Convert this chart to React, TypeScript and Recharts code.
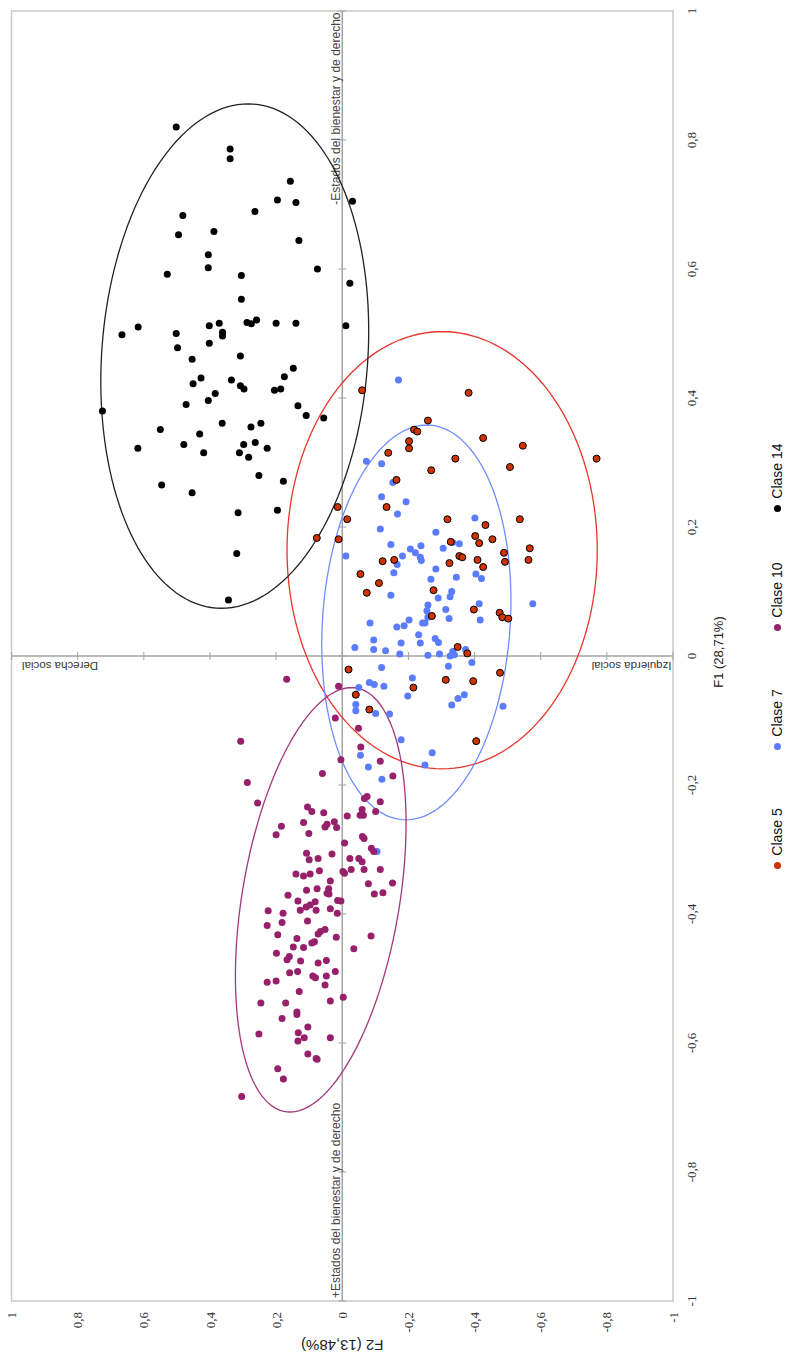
import React from 'react';
import {
  ScatterChart, Scatter, XAxis, YAxis, ReferenceLine, ReferenceArea, ReferenceDot,
} from 'recharts';

const SANS = "'Liberation Sans', Arial, Helvetica, sans-serif";
const SERIF = "'Liberation Serif', 'Times New Roman', serif";

// Axis ticks
const F1_TICKS = [-1, -0.8, -0.6, -0.4, -0.2, 0, 0.2, 0.4, 0.6, 0.8, 1];
const F2_TICKS = [-1, -0.8, -0.6, -0.4, -0.2, 0, 0.2, 0.4, 0.6, 0.8, 1];

// Series names and colours
const CLASS_NAMES = ['Clase 5', 'Clase 7', 'Clase 10', 'Clase 14'];
const CLASS_COLORS = ['#d03200', '#5b7cff', '#96206a', '#000000'];
const ELLIPSE_COLORS = ['#e8352c', '#6f8fff', '#a3387a', '#222222'];

// Points: [F1, F2]
const clase5: number[][] = [
  [0.412, -0.060], [0.408, -0.382], [0.365, -0.259], [0.351, -0.217], [0.348, -0.227],
  [0.338, -0.426], [0.326, -0.546], [0.333, -0.202], [0.322, -0.202], [0.315, -0.139],
  [0.306, -0.342], [0.293, -0.507], [0.306, -0.769], [0.288, -0.269], [0.273, -0.164],
  [0.231, -0.134], [0.231, 0.014], [0.212, -0.015], [0.212, -0.318], [0.212, -0.537],
  [0.203, -0.433], [0.183, 0.077], [0.181, 0.011], [0.186, -0.402], [0.175, -0.414],
  [0.181, -0.454], [0.177, -0.328], [0.167, -0.567], [0.160, -0.489], [0.146, -0.492],
  [0.155, -0.354], [0.153, -0.363], [0.149, -0.409], [0.147, -0.122], [0.149, -0.157],
  [0.149, -0.563], [0.144, -0.324], [0.138, -0.426], [0.127, -0.055], [0.113, -0.111],
  [0.098, -0.074], [0.102, -0.276], [0.072, -0.398], [0.067, -0.476], [0.060, -0.484],
  [0.058, -0.502], [0.062, -0.271], [0.014, -0.349], [0.004, -0.378], [-0.021, -0.019],
  [-0.037, -0.313], [-0.039, -0.396], [-0.026, -0.477], [-0.049, -0.215], [-0.060, -0.041],
  [-0.083, -0.082], [-0.132, -0.405],
];

const clase7: number[][] = [
  [0.428, -0.170], [0.302, -0.073], [0.298, -0.119], [0.269, -0.153], [0.247, -0.119],
  [0.239, -0.193], [0.220, -0.167], [0.197, -0.115], [0.192, -0.283], [0.214, -0.401],
  [0.173, -0.147], [0.171, -0.238], [0.167, -0.305], [0.176, -0.334], [0.174, -0.354],
  [0.155, -0.011], [0.166, -0.206], [0.160, -0.221], [0.153, -0.236], [0.148, -0.239],
  [0.155, -0.182], [0.142, -0.166], [0.135, -0.283], [0.129, -0.156], [0.119, -0.268],
  [0.122, -0.345], [0.127, -0.404], [0.120, -0.421], [0.094, -0.147], [0.100, -0.331],
  [0.092, -0.326], [0.090, -0.290], [0.081, -0.576], [0.081, -0.414], [0.079, -0.259],
  [0.070, -0.256], [0.060, -0.259], [0.072, -0.313], [0.058, -0.323], [0.056, -0.417],
  [0.056, -0.202], [0.051, -0.084], [0.045, -0.165], [0.047, -0.187], [0.051, -0.243],
  [0.051, -0.250], [0.033, -0.231], [0.025, -0.095], [0.013, -0.038], [0.010, -0.095],
  [0.008, -0.131], [0.020, -0.178], [0.020, -0.236], [0.027, -0.281], [0.021, -0.291],
  [0.003, -0.174], [0.001, -0.259], [0.003, -0.294], [0.007, -0.334], [0.002, -0.339],
  [0.000, -0.326], [0.010, -0.373], [-0.010, -0.392], [-0.016, -0.321], [-0.018, -0.119],
  [-0.034, -0.212], [-0.041, -0.082], [-0.044, -0.097], [-0.047, -0.126], [-0.049, -0.050],
  [-0.062, -0.198], [-0.060, -0.369], [-0.066, -0.350], [-0.076, -0.331], [-0.078, -0.486],
  [-0.075, -0.041], [-0.085, -0.041], [-0.089, -0.101], [-0.090, -0.143], [-0.130, -0.178],
  [-0.154, -0.055], [-0.150, -0.272], [-0.169, -0.250], [-0.172, -0.079], [-0.191, -0.120],
  [-0.303, -0.105],
];

const clase10: number[][] = [
  [-0.036, 0.168], [-0.047, 0.011], [-0.096, 0.021], [-0.112, -0.049], [-0.132, 0.307],
  [-0.141, -0.056], [-0.161, 0.004], [-0.163, -0.115], [-0.196, 0.287], [-0.182, 0.060],
  [-0.186, -0.153], [-0.228, 0.256], [-0.218, -0.075], [-0.221, -0.067], [-0.226, -0.115],
  [-0.234, 0.105], [-0.241, 0.092], [-0.243, 0.056], [-0.238, -0.060], [-0.247, -0.054],
  [-0.247, -0.064], [-0.241, -0.101], [-0.248, -0.015], [-0.264, 0.184], [-0.258, 0.117],
  [-0.261, 0.046], [-0.265, 0.052], [-0.257, 0.024], [-0.266, 0.017], [-0.277, 0.200],
  [-0.275, 0.101], [-0.290, -0.007], [-0.283, -0.066], [-0.280, -0.061], [-0.306, 0.108],
  [-0.316, 0.100], [-0.314, 0.073], [-0.307, 0.031], [-0.314, -0.023], [-0.314, -0.050],
  [-0.319, -0.060], [-0.298, -0.088], [-0.303, -0.095], [-0.338, 0.140], [-0.341, 0.117],
  [-0.338, 0.097], [-0.333, 0.069], [-0.349, 0.036], [-0.334, -0.002], [-0.337, -0.007],
  [-0.331, -0.027], [-0.331, -0.066], [-0.331, -0.115], [-0.353, -0.079], [-0.369, -0.097],
  [-0.367, -0.123], [-0.352, -0.152], [-0.371, 0.164], [-0.363, 0.108], [-0.361, 0.076],
  [-0.361, 0.041], [-0.368, 0.046], [-0.369, 0.040], [-0.380, 0.134], [-0.395, 0.224],
  [-0.399, 0.179], [-0.413, 0.182], [-0.394, 0.127], [-0.389, 0.109], [-0.386, 0.097],
  [-0.381, 0.082], [-0.394, 0.079], [-0.411, 0.105], [-0.392, 0.036], [-0.379, 0.014],
  [-0.380, 0.004], [-0.399, 0.015], [-0.418, 0.227], [-0.432, 0.195], [-0.438, 0.137],
  [-0.431, 0.073], [-0.427, 0.066], [-0.424, 0.052], [-0.436, 0.018], [-0.434, -0.087],
  [-0.451, 0.148], [-0.452, 0.117], [-0.445, 0.092], [-0.443, 0.084], [-0.454, -0.035],
  [-0.461, 0.199], [-0.466, 0.160], [-0.471, 0.167], [-0.473, 0.126], [-0.476, 0.073],
  [-0.472, 0.048], [-0.489, 0.135], [-0.491, 0.159], [-0.496, 0.089], [-0.499, 0.081],
  [-0.496, 0.048], [-0.489, 0.021], [-0.506, 0.227], [-0.504, 0.200], [-0.510, 0.052],
  [-0.520, 0.130], [-0.538, 0.246], [-0.538, 0.171], [-0.535, 0.036], [-0.529, -0.003],
  [-0.552, 0.137], [-0.556, 0.137], [-0.562, 0.182], [-0.575, 0.104], [-0.586, 0.252],
  [-0.584, 0.133], [-0.597, 0.134], [-0.592, 0.115], [-0.592, 0.036], [-0.617, 0.104],
  [-0.625, 0.076], [-0.624, 0.079], [-0.640, 0.195], [-0.656, 0.178], [-0.683, 0.304],
];

const clase14: number[][] = [
  [0.820, 0.502], [0.786, 0.339], [0.771, 0.339], [0.736, 0.157], [0.707, 0.196],
  [0.703, 0.140], [0.705, -0.031], [0.683, 0.482], [0.689, 0.264], [0.653, 0.495],
  [0.658, 0.388], [0.644, 0.131], [0.622, 0.405], [0.602, 0.405], [0.592, 0.529],
  [0.590, 0.305], [0.600, 0.075], [0.578, -0.023], [0.553, 0.305], [0.516, 0.372],
  [0.517, 0.288], [0.515, 0.275], [0.521, 0.259], [0.516, 0.200], [0.516, 0.140],
  [0.512, -0.011], [0.498, 0.666], [0.510, 0.617], [0.500, 0.502], [0.512, 0.402],
  [0.502, 0.362], [0.496, 0.362], [0.478, 0.498], [0.485, 0.402], [0.460, 0.454],
  [0.465, 0.308], [0.446, 0.148], [0.433, 0.175], [0.431, 0.427], [0.422, 0.451],
  [0.428, 0.335], [0.419, 0.308], [0.414, 0.297], [0.412, 0.205], [0.414, 0.186],
  [0.407, 0.384], [0.390, 0.472], [0.396, 0.405], [0.380, 0.725], [0.388, 0.134],
  [0.373, 0.109], [0.369, 0.056], [0.361, 0.363], [0.355, 0.276], [0.361, 0.246],
  [0.351, 0.550], [0.344, 0.431], [0.322, 0.618], [0.328, 0.479], [0.315, 0.419],
  [0.328, 0.298], [0.331, 0.263], [0.322, 0.227], [0.315, 0.311], [0.308, 0.283],
  [0.280, 0.252], [0.271, 0.178], [0.265, 0.546], [0.253, 0.454], [0.222, 0.315],
  [0.226, 0.196], [0.159, 0.319], [0.087, 0.344],
];

// Confidence ellipses (order: Clase 5, 7, 10, 14)
const ELLIPSE_CENTER_F1 = [0.164, 0.052, -0.378, 0.465];
const ELLIPSE_CENTER_F2 = [-0.302, -0.224, 0.065, 0.325];
const ELLIPSE_RADIUS_F1 = [0.339, 0.306, 0.329, 0.391];
const ELLIPSE_RADIUS_F2 = [0.469, 0.286, 0.258, 0.405];
const ELLIPSE_RHO = [0.0, -0.11, -0.36, -0.1];

const toRows = (pts: number[][]) => pts.map(([x, y]) => ({ x, y }));

const ellipseRows = (i: number) => {
  const rows: { x: number; y: number }[] = [];
  const n = 160;
  const r = ELLIPSE_RHO[i];
  const s = Math.sqrt(1 - r * r);
  for (let k = 0; k <= n; k++) {
    const t = (2 * Math.PI * k) / n;
    rows.push({
      x: ELLIPSE_CENTER_F1[i] + ELLIPSE_RADIUS_F1[i] * Math.cos(t),
      y: ELLIPSE_CENTER_F2[i] + ELLIPSE_RADIUS_F2[i] * (r * Math.cos(t) + s * Math.sin(t)),
    });
  }
  return rows;
};

const fmt = (v: number) => {
  const r = Math.round(v * 10) / 10;
  if (r === 0) return '0';
  return String(r).replace('.', ',');
};

const dot = (fill: string, stroke?: string) => (p: any) => (
  <circle cx={p.cx} cy={p.cy} r={3.5} fill={fill} stroke={stroke || 'none'} strokeWidth={stroke ? 1 : 0} />
);

const AXIS_GREY = '#a3a3a3';

const vTick = (p: any) => (
  <line x1={p.cx} x2={p.cx} y1={p.cy - 4} y2={p.cy + 4} stroke={AXIS_GREY} strokeWidth={1} />
);
const hTick = (p: any) => (
  <line x1={p.cx - 4} x2={p.cx + 4} y1={p.cy} y2={p.cy} stroke={AXIS_GREY} strokeWidth={1} />
);

const XTitle = (props: any) => {
  const vb = props.viewBox;
  return (
    <text x={vb.x + vb.width / 2 + 4} y={vb.y + 45} textAnchor="middle" dominantBaseline="central"
      fontFamily={SANS} fontSize={13} fill="#222">F1 (28,71%)</text>
  );
};

const YTitle = (props: any) => {
  const vb = props.viewBox;
  const x = vb.x + 6;
  const y = vb.y + vb.height / 2;
  return (
    <text x={x} y={y} transform={`rotate(-90, ${x}, ${y})`} textAnchor="middle" dominantBaseline="central"
      fontFamily={SANS} fontSize={15} fill="#222">F2 (13,48%)</text>
  );
};

const labelDerecha = (p: any) => {
  const x = p.cx - 5.5, y = p.cy + 10.5;
  return <text x={x} y={y} transform={`rotate(-90, ${x}, ${y})`} textAnchor="end" fontFamily={SANS} fontSize={11.5} fill="#333">Derecha social</text>;
};
const labelIzquierda = (p: any) => {
  const x = p.cx - 5.5, y = p.cy - 1.5;
  return <text x={x} y={y} transform={`rotate(-90, ${x}, ${y})`} textAnchor="start" fontFamily={SANS} fontSize={11.5} fill="#333">Izquierda social</text>;
};
const labelEstadosMinus = (p: any) => (
  <text x={p.cx - 1.5} y={p.cy - 2} textAnchor="end" fontFamily={SANS} fontSize={12} fill="#444">-Estados del bienestar y de derecho</text>
);
const labelEstadosPlus = (p: any) => (
  <text x={p.cx + 3} y={p.cy - 2} textAnchor="start" fontFamily={SANS} fontSize={12} fill="#444">+Estados del bienestar y de derecho</text>
);

export default function App() {
  return (
    <div style={{ position: 'absolute', left: 0, top: 0, width: 786, height: 1364, overflow: 'hidden', background: '#fff' }}>
      <div
        style={{
          position: 'absolute', left: 0, top: 0, width: 1364, height: 786,
          transformOrigin: '0 0', transform: 'translate(0px, 1364px) rotate(-90deg)',
        }}
      >
        <ScatterChart width={1364} height={786} margin={{ top: 11.5, right: 11, bottom: 0, left: 13 }}>
          <XAxis
            type="number" dataKey="x" domain={[-1, 1]} ticks={F1_TICKS} interval={0} allowDataOverflow
            axisLine={false} tickLine={false} tickSize={6} tickMargin={8} height={113}
            tickFormatter={fmt} tick={{ fontFamily: SERIF, fontSize: 13, fill: '#333' }}
            label={<XTitle />}
          />
          <YAxis
            type="number" dataKey="y" domain={[-1, 1]} ticks={F2_TICKS} interval={0} allowDataOverflow
            axisLine={false} tickLine={false} tickSize={6} tickMargin={5} width={50}
            tickFormatter={fmt} tick={{ fontFamily: SERIF, fontSize: 13, fill: '#333' }}
            label={<YTitle />}
          />
          <ReferenceArea x1={-1} x2={1} y1={-1} y2={1} fill="#ffffff" fillOpacity={0} stroke="#c9c9c9" strokeWidth={1.5} />
          <ReferenceLine x={0} stroke={AXIS_GREY} strokeWidth={1.5} />
          <ReferenceLine y={0} stroke={AXIS_GREY} strokeWidth={1.5} />
          {F2_TICKS.map((v) => (
            <ReferenceDot key={'t2' + v} x={0} y={v} r={0} shape={hTick} />
          ))}
          {F1_TICKS.map((u) => (
            <ReferenceDot key={'t1' + u} x={u} y={0} r={0} shape={vTick} />
          ))}
          <ReferenceDot x={0} y={1} r={0} shape={labelDerecha} />
          <ReferenceDot x={0} y={-1} r={0} shape={labelIzquierda} />
          <ReferenceDot x={1} y={0} r={0} shape={labelEstadosMinus} />
          <ReferenceDot x={-1} y={0} r={0} shape={labelEstadosPlus} />

          {[0, 1, 2, 3].map((i) => (
            <Scatter
              key={'e' + i}
              name={'ellipse-' + i}
              data={ellipseRows(i)}
              line={{ stroke: ELLIPSE_COLORS[i], strokeWidth: 1.3, fill: 'none' }}
              shape={() => <g />}
              legendType="none"
              isAnimationActive={false}
            />
          ))}

          <Scatter name={CLASS_NAMES[1]} data={toRows(clase7)} shape={dot(CLASS_COLORS[1])} isAnimationActive={false} />
          <Scatter name={CLASS_NAMES[2]} data={toRows(clase10)} shape={dot(CLASS_COLORS[2])} isAnimationActive={false} />
          <Scatter name={CLASS_NAMES[3]} data={toRows(clase14)} shape={dot(CLASS_COLORS[3])} isAnimationActive={false} />
          <Scatter name={CLASS_NAMES[0]} data={toRows(clase5)} shape={dot(CLASS_COLORS[0], '#000')} isAnimationActive={false} />
        </ScatterChart>

        <div
          style={{
            position: 'absolute', left: 63, top: 767, width: 1290, height: 20,
            display: 'flex', justifyContent: 'center', alignItems: 'center',
            fontFamily: SANS, fontSize: 14, color: '#111',
          }}
        >
          {CLASS_NAMES.map((n, i) => (
            <div key={n} style={{ width: i < 3 ? 119 : 'auto', display: 'flex', alignItems: 'center', whiteSpace: 'nowrap' }}>
              <span style={{ display: 'inline-block', width: 7, height: 7, borderRadius: '50%', background: CLASS_COLORS[i] }} />
              <span style={{ marginLeft: 6 }}>{n}</span>
            </div>
          ))}
        </div>
      </div>
    </div>
  );
}
